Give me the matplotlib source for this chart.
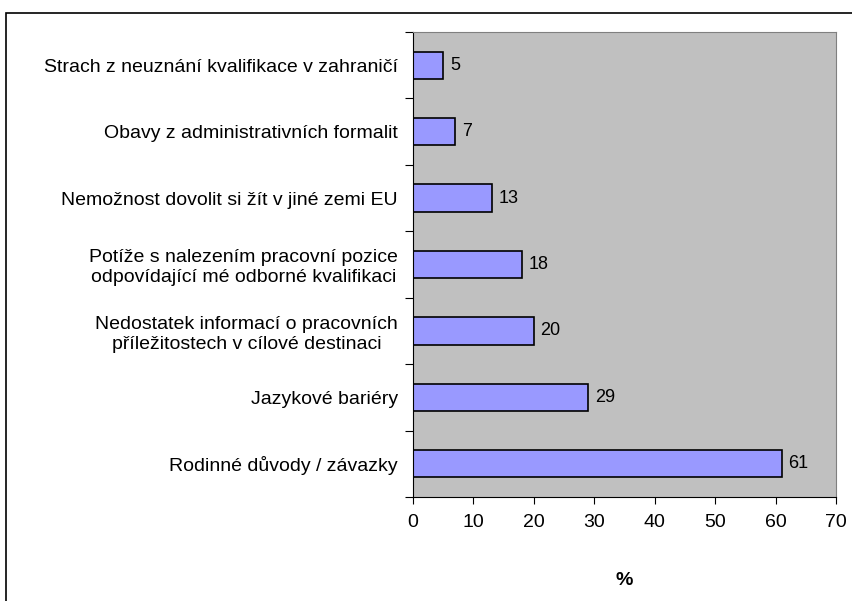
import matplotlib.pyplot as plt
from matplotlib.patches import Rectangle

plt.rcParams['font.family'] = ['Liberation Sans', 'DejaVu Sans']

# data (bottom to top)
labels = ['Rodinné důvody / závazky',
          'Jazykové bariéry',
          'Nedostatek informací o pracovních\npříležitostech v cílové destinaci',
          'Potíže s nalezením pracovní pozice\nodpovídající mé odborné kvalifikaci',
          'Nemožnost dovolit si žít v jiné zemi EU',
          'Obavy z administrativních formalit',
          'Strach z neuznání kvalifikace v zahraničí']
values = [61, 29, 20, 18, 13, 7, 5]

fig = plt.figure(figsize=(8.53, 6.01), dpi=100)
# outer chart border (cut off on right/bottom like the original)
fig.patches.append(Rectangle((6 / 853, -0.1), 1.2, 1 - 13 / 601 + 0.1,
                             transform=fig.transFigure, fill=False,
                             edgecolor='black', linewidth=1.2))

ax = fig.add_axes([413 / 853, 1 - 497 / 601, (836 - 413) / 853, (497 - 32) / 601])
ax.set_facecolor('#C0C0C0')

y = list(range(len(values)))
ax.barh(y, values, height=0.41, color='#9999FF', edgecolor='black', linewidth=1.2)
for yi, v in zip(y, values):
    ax.text(v + 1.1, yi, str(v), va='center', ha='left', fontsize=13)

ax.set_xlim(0, 70)
ax.set_ylim(-0.5, len(values) - 0.5)
ax.set_xticks(range(0, 71, 10))
ax.tick_params(axis='x', labelsize=14, length=5, direction='out', pad=7)

ax.set_yticks([i - 0.5 for i in range(len(values) + 1)], minor=False)
ax.set_yticklabels([])
ax.set_yticks(y, minor=True)
ax.set_yticklabels(labels, minor=True, fontsize=14, ha='right', multialignment='center')
ax.tick_params(axis='y', which='major', length=6, direction='out')
ax.tick_params(axis='y', which='minor', length=0, pad=11)

ax.set_xlabel('%', fontsize=14, fontweight='bold', labelpad=30)

for s in ['top', 'right']:
    ax.spines[s].set_color('#808080')
for s in ['left', 'bottom']:
    ax.spines[s].set_color('black')

fig.savefig('out.png', dpi=100)
